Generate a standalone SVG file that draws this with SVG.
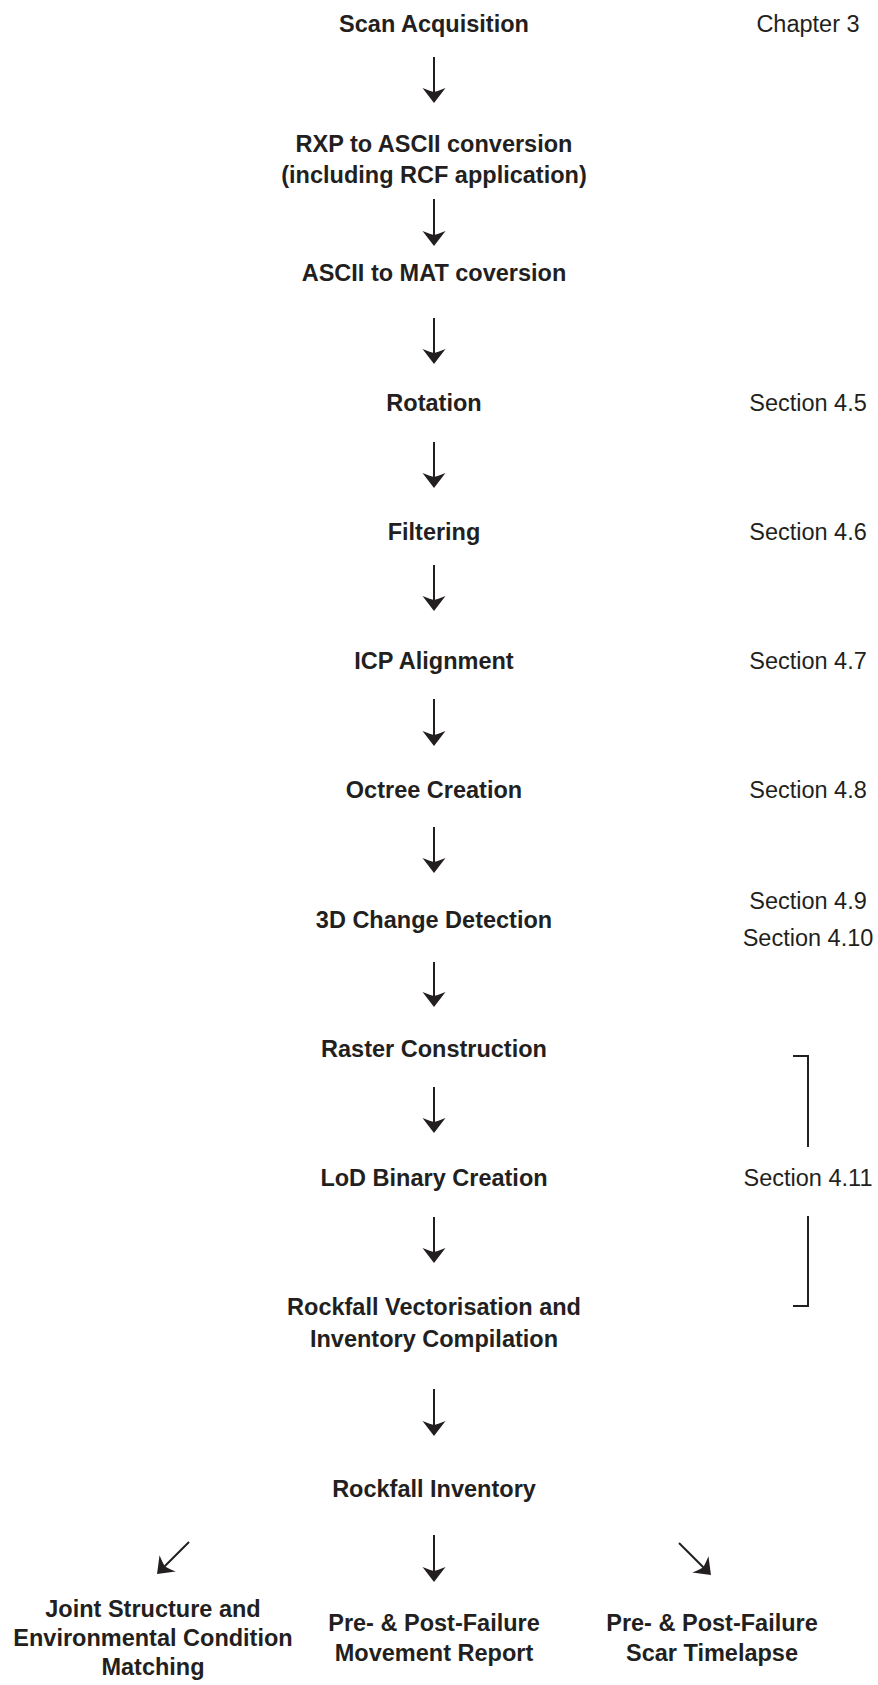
<svg xmlns="http://www.w3.org/2000/svg" width="878" height="1685" viewBox="0 0 878 1685">
<style>
.b{font-family:"Liberation Sans",Arial,sans-serif;font-weight:bold;font-size:23.5px;fill:#231f20;text-anchor:middle}
.r{font-family:"Liberation Sans",Arial,sans-serif;font-size:23.5px;fill:#231f20;text-anchor:middle}
.c line{stroke:#231f20;stroke-width:2;marker-end:url(#ah)}
.br{fill:none;stroke:#231f20;stroke-width:2}
</style>
<defs>
<marker id="ah" markerUnits="userSpaceOnUse" viewBox="0 -12 15 24" markerWidth="15" markerHeight="24" refX="7" refY="0" orient="auto">
<path d="M15 0 L0 -11.5 Q3.5 -3 4 0 Q3.5 3 0 11.5 Z" fill="#231f20"/>
</marker>
</defs>
<rect width="878" height="1685" fill="#fff"/>
<g id="n1"><text class="b" x="434" y="32">Scan Acquisition</text></g>
<g id="n2"><text class="b" x="434" y="152">RXP to ASCII conversion</text><text class="b" x="434" y="183">(including RCF application)</text></g>
<g id="n3"><text class="b" x="434" y="281">ASCII to MAT coversion</text></g>
<g id="n4"><text class="b" x="434" y="411">Rotation</text></g>
<g id="n5"><text class="b" x="434" y="540">Filtering</text></g>
<g id="n6"><text class="b" x="434" y="669">ICP Alignment</text></g>
<g id="n7"><text class="b" x="434" y="798">Octree Creation</text></g>
<g id="n8"><text class="b" x="434" y="928">3D Change Detection</text></g>
<g id="n9"><text class="b" x="434" y="1057">Raster Construction</text></g>
<g id="n10"><text class="b" x="434" y="1186">LoD Binary Creation</text></g>
<g id="n11"><text class="b" x="434" y="1315">Rockfall Vectorisation and</text><text class="b" x="434" y="1347">Inventory Compilation</text></g>
<g id="n12"><text class="b" x="434" y="1497">Rockfall Inventory</text></g>
<g id="n13"><text class="b" x="153" y="1617">Joint Structure and</text><text class="b" x="153" y="1646">Environmental Condition</text><text class="b" x="153" y="1675">Matching</text></g>
<g id="n14"><text class="b" x="434" y="1631">Pre- &amp; Post-Failure</text><text class="b" x="434" y="1661">Movement Report</text></g>
<g id="n15"><text class="b" x="712" y="1631">Pre- &amp; Post-Failure</text><text class="b" x="712" y="1661">Scar Timelapse</text></g>
<g id="refs">
<text class="r" x="808" y="32">Chapter 3</text>
<text class="r" x="808" y="411">Section 4.5</text>
<text class="r" x="808" y="540">Section 4.6</text>
<text class="r" x="808" y="669">Section 4.7</text>
<text class="r" x="808" y="798">Section 4.8</text>
<text class="r" x="808" y="909">Section 4.9</text>
<text class="r" x="808" y="946">Section 4.10</text>
<text class="r" x="808" y="1186">Section 4.11</text>
<path class="br" d="M793 1056 H808 V1147"/>
<path class="br" d="M808 1216 V1306 H793"/>
</g>
<g id="connectors" class="c">
<line x1="434" y1="57" x2="434" y2="95"/>
<line x1="434" y1="199" x2="434" y2="238"/>
<line x1="434" y1="318" x2="434" y2="356"/>
<line x1="434" y1="442" x2="434" y2="480"/>
<line x1="434" y1="565" x2="434" y2="603"/>
<line x1="434" y1="699" x2="434" y2="738"/>
<line x1="434" y1="827" x2="434" y2="865"/>
<line x1="434" y1="962" x2="434" y2="999"/>
<line x1="434" y1="1087" x2="434" y2="1125"/>
<line x1="434" y1="1217" x2="434" y2="1255"/>
<line x1="434" y1="1389" x2="434" y2="1428"/>
<line x1="434" y1="1535" x2="434" y2="1574"/>
<line x1="189" y1="1542" x2="162.7" y2="1568.3"/>
<line x1="679" y1="1543" x2="705.3" y2="1569.3"/>
</g>
</svg>
